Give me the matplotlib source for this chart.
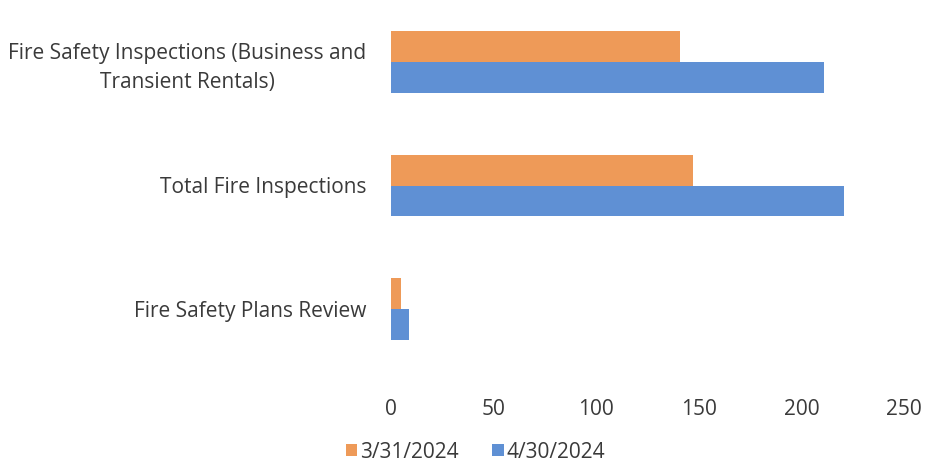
import matplotlib
matplotlib.use("Agg")
import matplotlib.pyplot as plt
import numpy as np

categories = ["Fire Safety Plans Review", "Total Fire Inspections",
              "Fire Safety Inspections (Business and\nTransient Rentals)"]
series_names = ["3/31/2024", "4/30/2024"]
values_mar = [5, 147, 141]
values_apr = [9, 221, 211]
xticks = [0, 50, 100, 150, 200, 250]

c_orange = "#EE9A58"
c_blue = "#5F90D4"
txt = "#3a3a3a"

plt.rcParams['font.family'] = ['Open Sans', 'DejaVu Sans']

fig = plt.figure(figsize=(9.25, 4.66), dpi=100)
ax = fig.add_axes([391/925, 1 - 371/466, (904-391)/925, 371/466])

y = np.arange(len(categories))
h = 0.25
ax.barh(y + h/2, values_mar, height=h, color=c_orange, label=series_names[0])
ax.barh(y - h/2, values_apr, height=h, color=c_blue, label=series_names[1])

ax.set_xlim(0, 250)
ax.set_ylim(-0.5, 2.5)
ax.set_xticks(xticks)
ax.set_yticks(y)
ax.set_yticklabels(categories, ha='right', multialignment='center', linespacing=1.5)
for s in ax.spines.values():
    s.set_visible(False)
ax.tick_params(axis='both', length=0, labelsize=15, colors=txt)
ax.tick_params(axis='x', pad=20)
ax.tick_params(axis='y', pad=18)

fig.legend(loc='center', bbox_to_anchor=(0.514, 1 - 452/466), ncol=2, frameon=False,
           fontsize=15, handlelength=0.55, handleheight=0.55, handletextpad=0.15,
           columnspacing=1.6, labelcolor=txt)

fig.savefig("out.png", dpi=100)
